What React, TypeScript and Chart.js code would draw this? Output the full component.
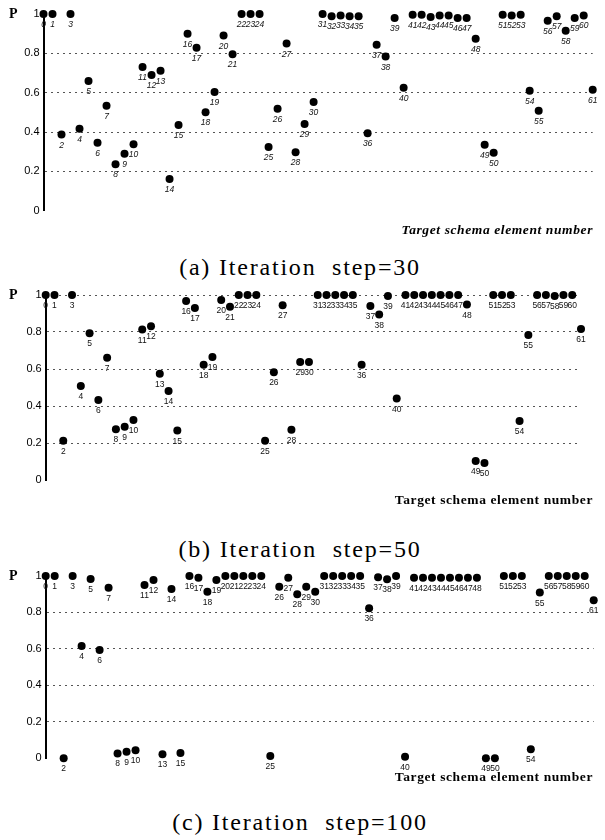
import React, { useEffect, useRef } from "react";
import { Chart, registerables } from "chart.js";

Chart.register(...registerables);

// Target schema element numbers (x) and P values (y) for each iteration step
const elementNumbers = [
  0, 1, 2, 3, 4, 5, 6, 7, 8, 9, 10, 11, 12, 13, 14, 15, 16, 17, 18, 19, 20,
  21, 22, 23, 24, 25, 26, 27, 28, 29, 30, 31, 32, 33, 34, 35, 36, 37, 38, 39,
  40, 41, 42, 43, 44, 45, 46, 47, 48, 49, 50, 51, 52, 53, 54, 55, 56, 57, 58,
  59, 60, 61,
];

const pStep30 = [
  1, 1, 0.387, 1, 0.416, 0.66, 0.345, 0.533, 0.236, 0.29, 0.338, 0.73, 0.69,
  0.711, 0.161, 0.436, 0.9, 0.828, 0.5, 0.604, 0.891, 0.795, 1, 1, 1, 0.324,
  0.518, 0.85, 0.297, 0.441, 0.552, 1, 0.988, 0.993, 0.988, 0.988, 0.394,
  0.844, 0.784, 0.98, 0.625, 0.996, 0.996, 0.985, 0.993, 0.993, 0.98, 0.98,
  0.874, 0.335, 0.294, 0.996, 0.993, 0.996, 0.61, 0.508, 0.966, 0.988, 0.915,
  0.98, 0.993, 0.615,
];

const pStep50 = [
  1, 1, 0.212, 1, 0.508, 0.793, 0.432, 0.661, 0.274, 0.288, 0.324, 0.813,
  0.831, 0.575, 0.481, 0.267, 0.968, 0.93, 0.623, 0.665, 0.973, 0.937, 1, 1, 1,
  0.212, 0.582, 0.944, 0.272, 0.638, 0.638, 1, 1, 1, 1, 1, 0.623, 0.94, 0.894,
  0.995, 0.44, 1, 1, 1, 1, 1, 1, 1, 0.948, 0.103, 0.092, 1, 1, 1, 0.319, 0.784,
  1, 1, 0.995, 1, 1, 0.816,
];

const pStep100 = [
  1, 1, 0, 1, 0.616, 0.984, 0.594, 0.936, 0.027, 0.036, 0.044, 0.951, 0.978,
  0.022, 0.929, 0.029, 1, 0.99, 0.914, 0.978, 1, 1, 1, 1, 1, 0.013, 0.941,
  0.99, 0.9, 0.941, 0.914, 1, 1, 1, 1, 1, 0.823, 0.993, 0.982, 1, 0.009, 0.99,
  0.99, 0.99, 0.99, 0.99, 0.99, 0.99, 0.99, 0, 0, 1, 1, 1, 0.049, 0.91, 1, 1,
  1, 1, 1, 0.867,
];

const yTickValues = [0, 0.2, 0.4, 0.6, 0.8, 1];

const xAxisTitle = "Target schema element number";
const captions = [
  "(a) Iteration  step=30",
  "(b) Iteration  step=50",
  "(c) Iteration  step=100",
];

type PanelProps = {
  top: number;
  height: number;
  plotLeft: number;
  plotRight: number;
  plotTop: number;
  plotBottom: number;
  values: number[];
  gridAtOne: boolean;
  italicLabels: boolean;
};

function Panel(props: PanelProps) {
  const ref = useRef<HTMLCanvasElement>(null);
  useEffect(() => {
    const canvas = ref.current;
    if (!canvas) return;
    const axisW = 20;
    const labelPlugin = {
      id: "pointNumbers",
      afterDatasetsDraw(chart: any) {
        const ctx = chart.ctx;
        const meta = chart.getDatasetMeta(0);
        ctx.save();
        ctx.fillStyle = "#111";
        ctx.font = (props.italicLabels ? "italic " : "") + "8.5px 'Liberation Sans'";
        ctx.textAlign = "center";
        ctx.textBaseline = "top";
        meta.data.forEach((pt: any, i: number) => {
          ctx.fillText(String(elementNumbers[i]), pt.x, pt.y + 6.5);
        });
        ctx.restore();
      },
    };
    const chart = new Chart(canvas, {
      type: "scatter",
      data: {
        datasets: [
          {
            data: elementNumbers.map((n, i) => ({ x: n, y: props.values[i] })),
            pointRadius: 4,
            pointHoverRadius: 4,
            backgroundColor: "#000",
            borderColor: "#000",
            borderWidth: 0,
            clip: false,
          } as any,
        ],
      },
      options: {
        responsive: false,
        animation: false,
        devicePixelRatio: 1,
        events: [],
        layout: {
          padding: {
            left: props.plotLeft - axisW,
            right: 605 - props.plotRight,
            top: props.plotTop,
            bottom: props.height - props.plotBottom,
          },
        },
        plugins: {
          legend: { display: false },
          tooltip: { enabled: false },
          title: { display: false },
        },
        scales: {
          x: { type: "linear", min: 0, max: 61, display: false },
          y: {
            type: "linear",
            min: 0,
            max: 1,
            afterFit(scale: any) {
              scale.width = axisW;
            },
            afterBuildTicks(scale: any) {
              scale.ticks = yTickValues.map((v) => ({ value: v }));
            },
            ticks: {
              padding: 4,
              color: "#000",
              font: { family: "'Liberation Sans'", size: 11 },
              callback: (v: any) => String(Number(Number(v).toFixed(1))),
            },
            grid: {
              drawTicks: false,
              lineWidth: 1,
              color: (ctx: any) => {
                const v = ctx.tick ? ctx.tick.value : -1;
                if (v === 0) return "rgba(0,0,0,0)";
                if (v === 1 && !props.gridAtOne) return "rgba(0,0,0,0)";
                return "#555";
              },
            },
            border: { display: true, color: "#000", width: 2, dash: [2, 4] },
          },
        },
      },
      plugins: [labelPlugin],
    });
    return () => chart.destroy();
  }, []);
  return (
    <canvas
      ref={ref}
      width={605}
      height={props.height}
      style={{ position: "absolute", left: 0, top: props.top, display: "block" }}
    />
  );
}

const pStyle: React.CSSProperties = {
  position: "absolute",
  fontFamily: "'Liberation Serif', serif",
  fontWeight: "bold",
  fontSize: 14,
  lineHeight: "14px",
};

function TitleText({ top, italic }: { top: number; italic: boolean }) {
  return (
    <div
      style={{
        position: "absolute",
        right: 12,
        top: top - 8,
        fontFamily: "'Liberation Serif', serif",
        fontWeight: "bold",
        fontStyle: italic ? "italic" : "normal",
        fontSize: 13.5,
        lineHeight: "16px",
        letterSpacing: 0.6,
        whiteSpace: "pre",
      }}
    >
      {xAxisTitle}
    </div>
  );
}

function Caption({ text, center }: { text: string; center: number }) {
  return (
    <div
      style={{
        position: "absolute",
        left: 0,
        width: 600,
        top: center - 14,
        textAlign: "center",
        fontFamily: "'Liberation Serif', serif",
        fontSize: 24,
        lineHeight: "28px",
        letterSpacing: 1.8,
        whiteSpace: "pre",
      }}
    >
      {text}
    </div>
  );
}

export default function App() {
  return (
    <div
      style={{
        position: "absolute",
        left: 0,
        top: 0,
        width: 605,
        height: 840,
        background: "#fff",
        overflow: "hidden",
      }}
    >
      <Panel
        top={0}
        height={230}
        plotLeft={43.5}
        plotRight={592.7}
        plotTop={14}
        plotBottom={210.7}
        values={pStep30}
        gridAtOne={false}
        italicLabels={true}
      />
      <div style={{ ...pStyle, left: 9, top: 7 }}>P</div>
      <TitleText top={230} italic={true} />
      <Caption text={captions[0]} center={266.7} />

      <Panel
        top={280}
        height={220}
        plotLeft={45.7}
        plotRight={581}
        plotTop={15}
        plotBottom={200}
        values={pStep50}
        gridAtOne={true}
        italicLabels={false}
      />
      <div style={{ ...pStyle, left: 9, top: 288 }}>P</div>
      <TitleText top={500} italic={false} />
      <Caption text={captions[1]} center={549} />

      <Panel
        top={555}
        height={230}
        plotLeft={45.7}
        plotRight={593.7}
        plotTop={21}
        plotBottom={203.3}
        values={pStep100}
        gridAtOne={false}
        italicLabels={false}
      />
      <div style={{ ...pStyle, left: 9, top: 569 }}>P</div>
      <TitleText top={777} italic={false} />
      <Caption text={captions[2]} center={821.7} />
    </div>
  );
}
